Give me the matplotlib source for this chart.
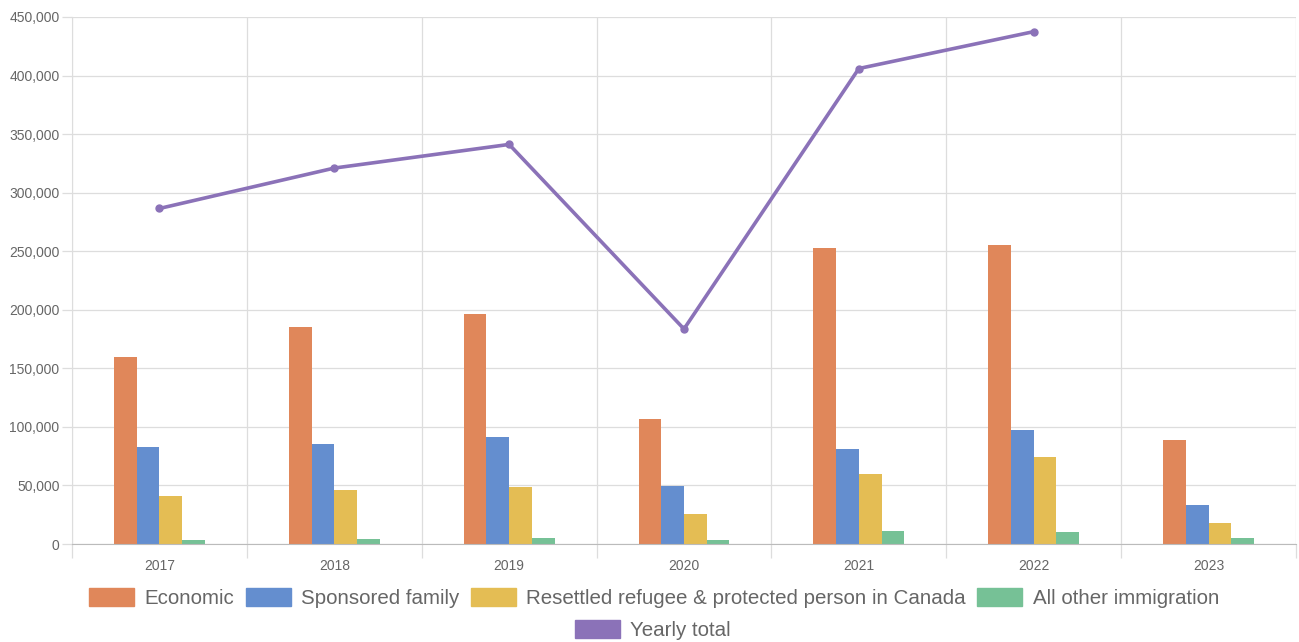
import numpy as np
import matplotlib
matplotlib.use("Agg")
import matplotlib.pyplot as plt
from matplotlib.patches import Patch
from matplotlib.ticker import FuncFormatter

years = ["2017", "2018", "2019", "2020", "2021", "2022", "2023"]
economic = [159600, 185500, 196000, 106800, 253000, 255600, 88800]
family = [82500, 85200, 91300, 49300, 81400, 97300, 33500]
refugee = [41400, 45700, 48500, 25500, 60100, 74300, 17900]
other = [3300, 3900, 4700, 3200, 11500, 10300, 5000]
yearly_total = [286500, 321000, 341200, 183600, 406000, 437500, np.nan]

labels = ["Economic", "Sponsored family",
          "Resettled refugee & protected person in Canada",
          "All other immigration"]
colors = ["#e0875a", "#648ecf", "#e4bd54", "#76c196"]
line_color = "#8b72b8"

plt.rcParams["font.family"] = ["Liberation Sans", "DejaVu Sans"]

fig = plt.figure(figsize=(12.99, 6.42), dpi=100)
ax = fig.add_axes([72 / 1299, 1 - 544 / 642, 1224 / 1299, 527 / 642])

x = np.arange(len(years))
bw = 0.13
series = [economic, family, refugee, other]
for i, vals in enumerate(series):
    ax.bar(x + (i - 1.5) * bw, vals, bw, color=colors[i], zorder=2)

# yearly total line (2023 not available)
ax.plot(x, yearly_total, color=line_color, lw=2.6, marker="o", ms=5, zorder=3)

ax.set_xlim(-0.5, len(years) - 0.5)
ax.set_ylim(0, 450000)
ax.set_yticks(np.arange(0, 450001, 50000))
ax.yaxis.set_major_formatter(FuncFormatter(lambda v, p: f"{int(v):,}"))
ax.set_xticks(x)
ax.set_xticklabels(years)
ax.set_xticks(np.arange(-0.5, len(years)), minor=True)

# grid
ax.grid(axis="y", color="#dddddd", lw=0.9, zorder=0)
ax.grid(axis="x", which="minor", color="#dddddd", lw=0.9, zorder=0)
ax.tick_params(axis="x", which="major", length=0, pad=11, labelsize=10, labelcolor="#666666")
ax.tick_params(axis="x", which="minor", length=10, color="#dddddd", width=0.9)
ax.tick_params(axis="y", length=7, color="#dddddd", width=0.9, labelsize=10, labelcolor="#666666", pad=2)

for s in ["top", "right"]:
    ax.spines[s].set_visible(False)
ax.spines["left"].set_color("#dddddd")
ax.spines["bottom"].set_color("#bbbbbb")

# legend (two rows, centred)
handles = [Patch(color=c) for c in colors]
fig.legend(handles, labels, loc="center", bbox_to_anchor=(654 / 1299, 1 - 598 / 642),
           ncol=4, frameon=False, fontsize=14.8, handlelength=2.2, handleheight=0.95,
           handletextpad=0.5, columnspacing=0.55, labelcolor="#666666")
fig.legend([Patch(color=line_color)], ["Yearly total"], loc="center",
           bbox_to_anchor=(653 / 1299, 1 - 630 / 642), frameon=False, fontsize=14.8,
           handlelength=2.2, handleheight=0.95, handletextpad=0.5, labelcolor="#666666")

fig.savefig("out.png", dpi=100)
